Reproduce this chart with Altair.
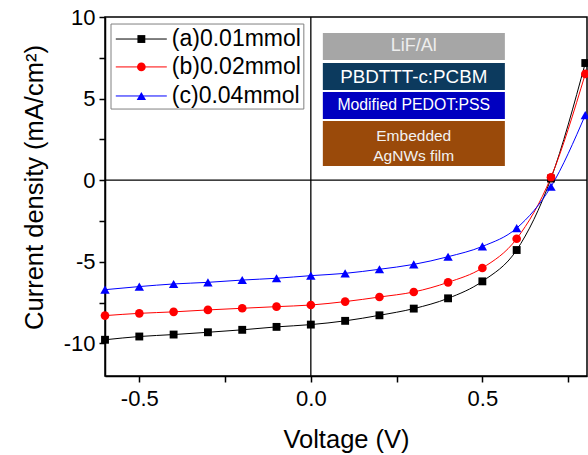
import altair as alt
import pandas as pd

# ---- data ----
voltage = [-0.6, -0.5, -0.4, -0.3, -0.2, -0.1, 0.0, 0.1, 0.2, 0.3, 0.4, 0.5, 0.6, 0.7, 0.8]
j_a = [-9.78, -9.58, -9.46, -9.32, -9.17, -8.99, -8.85, -8.62, -8.28, -7.87, -7.24, -6.20, -4.28, 0.10, 7.18]
j_b = [-8.30, -8.16, -8.07, -7.95, -7.85, -7.75, -7.65, -7.44, -7.16, -6.85, -6.26, -5.38, -3.59, 0.18, 6.51]
j_c = [-6.71, -6.52, -6.36, -6.26, -6.12, -6.01, -5.85, -5.71, -5.46, -5.16, -4.69, -4.06, -2.94, -0.40, 3.99]

series_names = ["(a)0.01mmol", "(b)0.02mmol", "(c)0.04mmol"]
series_colors = ["#000000", "#ff0000", "#0000ff"]
series_shapes = ["square", "circle", "triangle-up"]
series_sizes = [62, 88, 100]

layer_labels = ["LiF/Al", "PBDTTT-c:PCBM", "Modified PEDOT:PSS", "Embedded", "AgNWs film"]

FONT = "Liberation Sans"

rows = []
for name, vals in zip(series_names, [j_a, j_b, j_c]):
    for v, j in zip(voltage, vals):
        rows.append({"V": v, "J": j, "series": name})
df = pd.DataFrame(rows)

xs = alt.Scale(domain=[-0.6, 0.805], nice=False, zero=False)
ys = alt.Scale(domain=[-12, 10], nice=False, zero=False)

x_axis = alt.Axis(
    values=[-0.5, -0.25, 0, 0.25, 0.5, 0.75],
    labelExpr="abs(datum.value*2 - round(datum.value*2)) < 0.01 ? ((datum.value < -0.001 ? '-' : '') + format(abs(datum.value), '.1f')) : ''",
    title="Voltage (V)", titleFontSize=25.5, titleFontWeight="normal", titleBaseline="alphabetic",
    titleY=71, titleColor="#000000",
    labelFontSize=22, labelColor="#000000", labelPadding=6, labelFont=FONT,
    tickSize=6, tickWidth=1.5, tickColor="#000000",
    domainColor="#000000", domainWidth=1.5, grid=False,
)
y_axis = alt.Axis(
    values=[-10, -7.5, -5, -2.5, 0, 2.5, 5, 7.5, 10],
    labelExpr="abs(datum.value/5 - round(datum.value/5)) < 0.01 ? ((datum.value < -0.001 ? '-' : '') + format(abs(datum.value), 'd')) : ''",
    title="Current density (mA/cm²)", titleFontSize=25.5, titleFontWeight="normal",
    titleAngle=270, titleBaseline="alphabetic", titleAlign="center", titleX=-63, titleY=170,
    titleColor="#000000",
    labelFontSize=22, labelColor="#000000", labelPadding=4, labelFont=FONT,
    tickSize=6, tickWidth=1.5, tickColor="#000000",
    domainColor="#000000", domainWidth=1.5, grid=False,
)

color_scale = alt.Scale(domain=series_names, range=series_colors)
shape_scale = alt.Scale(domain=series_names, range=series_shapes)
size_scale = alt.Scale(domain=series_names, range=series_sizes)

lines = alt.Chart(df).mark_line(strokeWidth=1, interpolate="monotone").encode(
    x=alt.X("V:Q", scale=xs, axis=x_axis),
    y=alt.Y("J:Q", scale=ys, axis=y_axis),
    color=alt.Color("series:N", scale=color_scale, legend=None),
    detail="series:N",
)
points = alt.Chart(df).mark_point(filled=True, opacity=1).encode(
    x=alt.X("V:Q", scale=xs),
    y=alt.Y("J:Q", scale=ys),
    color=alt.Color("series:N", scale=color_scale, legend=None),
    shape=alt.Shape("series:N", scale=shape_scale, legend=None),
    size=alt.Size("series:N", scale=size_scale, legend=None),
)

zero_df = pd.DataFrame({"z": [0.0]})
vrule = alt.Chart(zero_df).mark_rule(color="#000000", strokeWidth=1.3).encode(x=alt.X("z:Q", scale=xs))
hrule = alt.Chart(zero_df).mark_rule(color="#000000", strokeWidth=1.3).encode(y=alt.Y("z:Q", scale=ys))

# ---- legend (in data units) ----
leg_box = pd.DataFrame({"x": [-0.5825], "x2": [-0.0204], "y": [9.57], "y2": [4.36]})
legend_box = alt.Chart(leg_box).mark_rect(fill="white", stroke="#808080", strokeWidth=1).encode(
    x=alt.X("x:Q", scale=xs), x2="x2:Q", y=alt.Y("y:Q", scale=ys), y2="y2:Q"
)
leg_y = [8.65, 6.94, 5.16]
leg_df = pd.DataFrame({
    "series": series_names, "y": leg_y,
    "x1": [-0.5685] * 3, "x2": [-0.4198] * 3, "xm": [-0.494] * 3, "xt": [-0.4052] * 3,
    "fs": [23] * 3,
})
leg_lines = alt.Chart(leg_df).mark_rule(strokeWidth=1).encode(
    x=alt.X("x1:Q", scale=xs), x2="x2:Q", y=alt.Y("y:Q", scale=ys),
    color=alt.Color("series:N", scale=color_scale, legend=None),
)
leg_pts = alt.Chart(leg_df).mark_point(filled=True, opacity=1).encode(
    x=alt.X("xm:Q", scale=xs), y=alt.Y("y:Q", scale=ys),
    color=alt.Color("series:N", scale=color_scale, legend=None),
    shape=alt.Shape("series:N", scale=shape_scale, legend=None),
    size=alt.Size("series:N", scale=size_scale, legend=None),
)
leg_txt = alt.Chart(leg_df).mark_text(align="left", baseline="middle", font=FONT, color="#000000").encode(
    x=alt.X("xt:Q", scale=xs), y=alt.Y("y:Q", scale=ys), text="series:N",
    size=alt.Size("fs:Q", scale=None),
)

# ---- device layer stack (in data units) ----
box_df = pd.DataFrame({
    "x": [0.035] * 4, "x2": [0.5656] * 4,
    "y": [9.02, 7.18, 5.40, 3.63], "y2": [7.37, 5.53, 3.75, 0.87],
    "fill": ["#a6a6a6", "#0c3a5e", "#0000c0", "#9a4a0a"],
})
boxes = alt.Chart(box_df).mark_rect().encode(
    x=alt.X("x:Q", scale=xs), x2="x2:Q", y=alt.Y("y:Q", scale=ys), y2="y2:Q",
    fill=alt.Fill("fill:N", scale=None),
)
lbl_df = pd.DataFrame({
    "text": layer_labels, "x": [0.30] * 5,
    "y": [8.22, 6.32, 4.61, 2.71, 1.48],
    "fs": [18, 18.8, 15.8, 15.5, 15.5],
    "col": ["#eeeeee", "#ffffff", "#ffffff", "#f2f2f2", "#f2f2f2"],
})
box_text = alt.Chart(lbl_df).mark_text(align="center", baseline="middle", font=FONT).encode(
    x=alt.X("x:Q", scale=xs), y=alt.Y("y:Q", scale=ys), text="text:N",
    size=alt.Size("fs:Q", scale=None), color=alt.Color("col:N", scale=None),
)

chart = alt.layer(
    vrule, hrule, lines, points, legend_box, leg_lines, leg_pts, leg_txt, boxes, box_text
).resolve_scale(color="independent", shape="independent", size="independent").properties(
    width=482, height=359,
    autosize=alt.AutoSizeParams(type="none"),
    padding={"left": 105, "top": 17, "right": 1, "bottom": 79},
).configure(font=FONT).configure_view(stroke="#000000", strokeWidth=1.5)

chart.save("out.html", embed_options={"renderer": "svg", "actions": False})
